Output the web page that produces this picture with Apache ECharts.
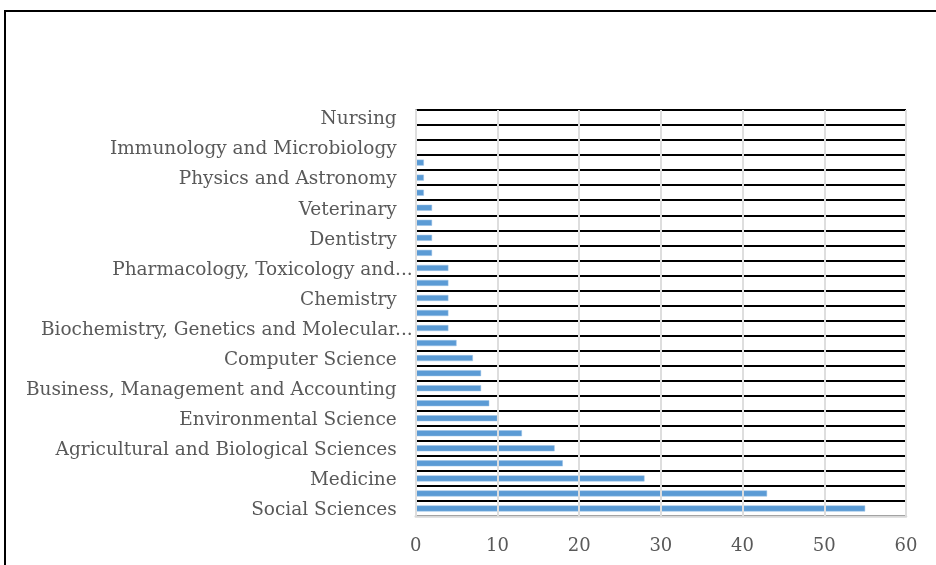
<!DOCTYPE html>
<html>
<head>
<meta charset="utf-8">
<script src="https://cdn.jsdelivr.net/npm/echarts@6/dist/echarts.min.js"></script>
<style>
  html, body { margin: 0; padding: 0; background: #fff; }
  #chart { width: 936px; height: 565px; }
</style>
</head>
<body>
<div id="chart"></div>
<script>
// Subject areas, listed bottom to top as the category axis draws them
const subjects = [
  'Social Sciences',
  'Arts and Humanities',
  'Medicine',
  'Economics, Econometrics and Finance',
  'Agricultural and Biological Sciences',
  'Earth and Planetary Sciences',
  'Environmental Science',
  'Psychology',
  'Business, Management and Accounting',
  'Engineering',
  'Computer Science',
  'Energy',
  'Biochemistry, Genetics and Molecular Biology',
  'Decision Sciences',
  'Chemistry',
  'Health Professions',
  'Pharmacology, Toxicology and Pharmaceutics',
  'Mathematics',
  'Dentistry',
  'Multidisciplinary',
  'Veterinary',
  'Materials Science',
  'Physics and Astronomy',
  'Chemical Engineering',
  'Immunology and Microbiology',
  'Neuroscience',
  'Nursing'
];

// Number of documents per subject area
const documents = [55, 43, 28, 18, 17, 13, 10, 9, 8, 8, 7, 5, 4, 4, 4, 4, 4, 2, 2, 2, 2, 1, 1, 1, 0, 0, 0];

// Value axis ticks
const xTicks = [0, 10, 20, 30, 40, 50, 60];

const FONT_FAMILY = 'DejaVu Serif';
const LABEL_SIZE = 18.5;
const LABEL_MAX_W = 410;

const measureCtx = document.createElement('canvas').getContext('2d');
measureCtx.font = LABEL_SIZE + 'px "' + FONT_FAMILY + '"';
function textWidth(s) { return measureCtx.measureText(s).width; }

// Shorten long names word by word and close them with an ellipsis
function fitLabel(name) {
  if (textWidth(name) <= LABEL_MAX_W) return { text: name, cut: false };
  const words = name.split(' ');
  while (words.length > 1) {
    words.pop();
    const t = words.join(' ') + '...';
    if (textWidth(t) <= LABEL_MAX_W) return { text: t, cut: true };
  }
  return { text: words[0] + '...', cut: true };
}

const chart = echarts.init(document.getElementById('chart'), null, { renderer: 'canvas' });

chart.setOption({
  animation: false,
  backgroundColor: '#ffffff',
  graphic: [{
    type: 'rect',
    shape: { x: 5, y: 11, width: 1000, height: 600 },
    style: { fill: 'none', stroke: '#000000', lineWidth: 2 },
    z: 100
  }],
  grid: {
    left: 415.7,
    right: 30,
    top: 110,
    bottom: 49,
    containLabel: false
  },
  xAxis: {
    type: 'value',
    min: xTicks[0],
    max: xTicks[xTicks.length - 1],
    interval: xTicks[1] - xTicks[0],
    z: 5,
    axisLine: { show: true, lineStyle: { color: '#d9d9d9', width: 2.5 } },
    axisTick: { show: false },
    splitLine: { show: true, lineStyle: { color: '#dedede', width: 2 } },
    axisLabel: {
      color: '#595959',
      fontFamily: FONT_FAMILY,
      fontSize: 18,
      margin: 21
    }
  },
  yAxis: {
    type: 'category',
    data: subjects,
    axisLine: { show: true, lineStyle: { color: '#bfbfbf', width: 2 } },
    axisTick: { show: false },
    splitLine: { show: true, interval: 0, lineStyle: { color: '#000000', width: 2 } },
    axisLabel: {
      interval: 1,
      margin: 3,
      color: '#595959',
      fontFamily: FONT_FAMILY,
      fontSize: LABEL_SIZE,
      formatter: function (name) {
        const f = fitLabel(name);
        return f.cut ? '{t|' + f.text + '}' : '{t|' + f.text + '}{g|}';
      },
      rich: {
        t: { color: '#595959', fontFamily: FONT_FAMILY, fontSize: LABEL_SIZE, padding: [4, 0, 0, 0] },
        g: { width: 16 }
      }
    }
  },
  series: [{
    type: 'bar',
    data: documents,
    barWidth: 6,
    itemStyle: { color: '#5b9bd5', borderColor: '#9dc3e6', borderWidth: 0.5 },
    z: 3
  }]
});
</script>
</body>
</html>
